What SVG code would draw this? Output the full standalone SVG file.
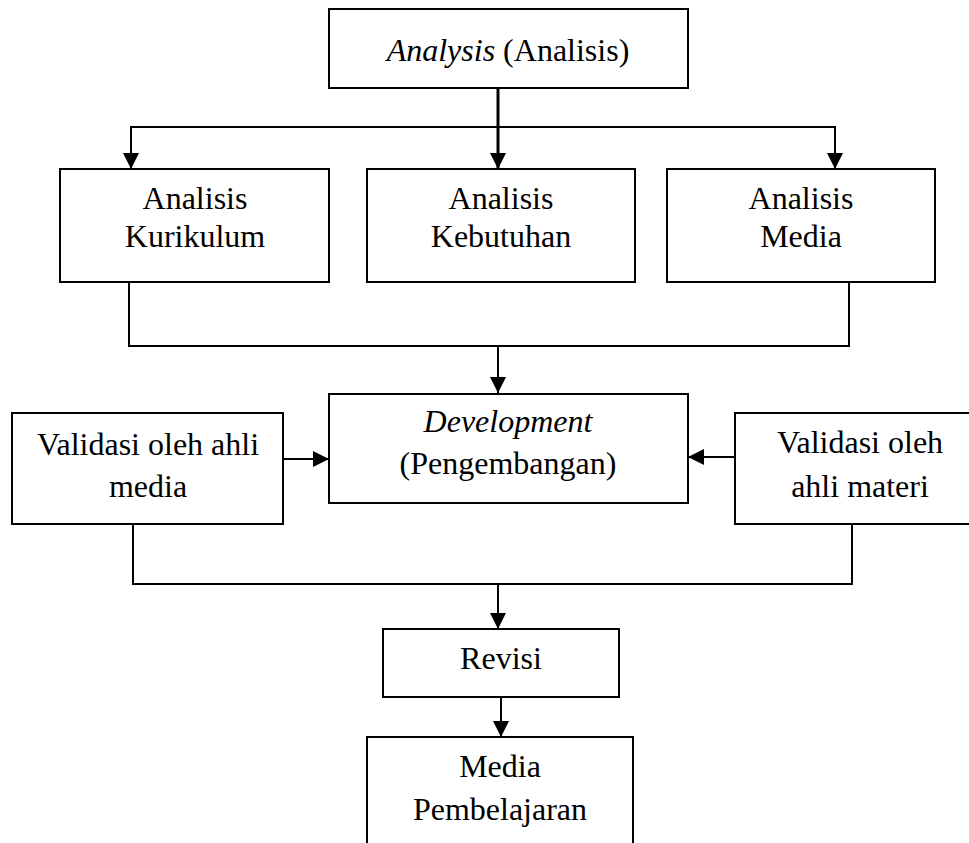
<svg xmlns="http://www.w3.org/2000/svg" width="969" height="843" viewBox="0 0 969 843">
  <defs>
    <style>
      .box { fill: #ffffff; stroke: #000000; stroke-width: 2; }
      .line { fill: none; stroke: #000000; stroke-width: 2; }
      .thick { fill: none; stroke: #000000; stroke-width: 3; }
      .label { font-family: "Liberation Serif", "Times New Roman", serif; font-size: 32px; fill: #000000; text-anchor: middle; }
      .it { font-style: italic; }
    </style>
    <marker id="arrow" markerUnits="userSpaceOnUse" markerWidth="16" markerHeight="16" viewBox="0 0 16 16" refX="16" refY="8" orient="auto">
      <path d="M0,0 L16,8 L0,16 Z" fill="#000000"/>
    </marker>
  </defs>

  <rect width="969" height="843" fill="#ffffff"/>

  <!-- connectors -->
  <g id="connectors">
    <line class="thick" x1="498" y1="88" x2="498" y2="169" marker-end="url(#arrow)"/>
    <polyline class="line" points="131,169 131,127 835,127 835,169"/>
    <line class="line" x1="131" y1="127" x2="131" y2="169" marker-end="url(#arrow)"/>
    <line class="line" x1="835" y1="127" x2="835" y2="169" marker-end="url(#arrow)"/>

    <polyline class="line" points="129,282 129,346 849,346 849,282"/>
    <line class="line" x1="498" y1="346" x2="498" y2="393" marker-end="url(#arrow)"/>

    <line class="line" x1="283" y1="459" x2="329" y2="459" marker-end="url(#arrow)"/>
    <line class="line" x1="735" y1="457" x2="688" y2="457" marker-end="url(#arrow)"/>

    <polyline class="line" points="133,524 133,584 852,584 852,524"/>
    <line class="line" x1="498" y1="584" x2="498" y2="629" marker-end="url(#arrow)"/>

    <line class="line" x1="501" y1="697" x2="501" y2="737" marker-end="url(#arrow)"/>
  </g>

  <g id="analysis">
    <rect class="box" x="329" y="9" width="359" height="79"/>
    <text class="label" x="508" y="61"><tspan class="it">Analysis</tspan> (Analisis)</text>
  </g>

  <g id="analisis-kurikulum">
    <rect class="box" x="60" y="169" width="269" height="113"/>
    <text class="label" x="195" y="209">Analisis</text>
    <text class="label" x="195" y="247">Kurikulum</text>
  </g>

  <g id="analisis-kebutuhan">
    <rect class="box" x="367" y="169" width="268" height="113"/>
    <text class="label" x="501" y="209">Analisis</text>
    <text class="label" x="501" y="247">Kebutuhan</text>
  </g>

  <g id="analisis-media">
    <rect class="box" x="667" y="169" width="268" height="113"/>
    <text class="label" x="801" y="209">Analisis</text>
    <text class="label" x="801" y="247">Media</text>
  </g>

  <g id="development">
    <rect class="box" x="329" y="394" width="359" height="109"/>
    <text class="label it" x="508" y="432">Development</text>
    <text class="label" x="508" y="474">(Pengembangan)</text>
  </g>

  <g id="validasi-media">
    <rect class="box" x="12" y="413" width="271" height="111"/>
    <text class="label" x="148" y="455">Validasi oleh ahli</text>
    <text class="label" x="148" y="497">media</text>
  </g>

  <g id="validasi-materi">
    <rect class="box" x="735" y="413" width="250" height="111"/>
    <text class="label" x="860" y="453">Validasi oleh</text>
    <text class="label" x="860" y="497">ahli materi</text>
  </g>

  <g id="revisi">
    <rect class="box" x="383" y="629" width="236" height="68"/>
    <text class="label" x="501" y="669">Revisi</text>
  </g>

  <g id="media-pembelajaran">
    <rect class="box" x="367" y="737" width="266" height="130"/>
    <text class="label" x="500" y="777">Media</text>
    <text class="label" x="500" y="820">Pembelajaran</text>
  </g>
</svg>
